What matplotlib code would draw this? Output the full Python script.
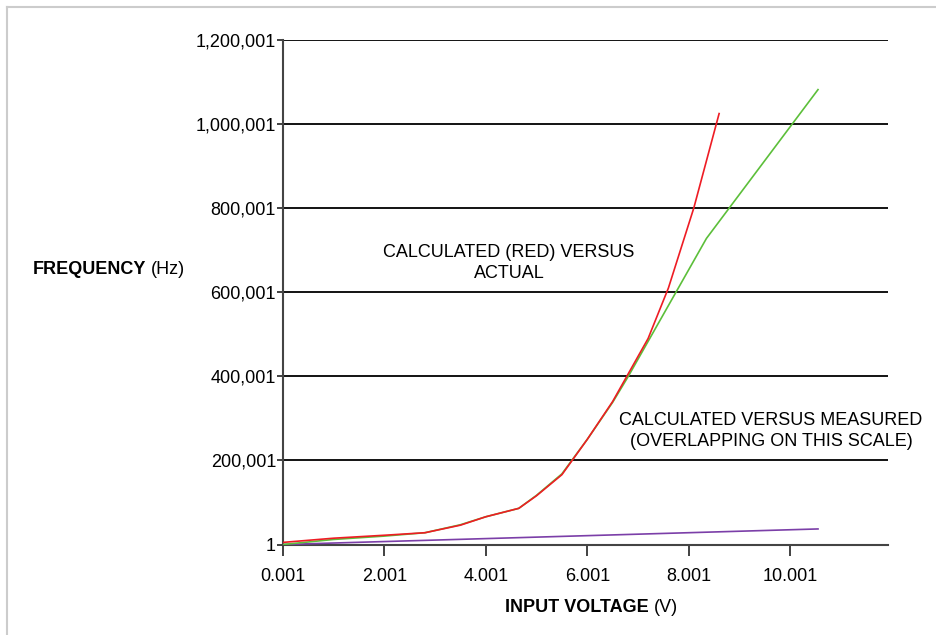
import matplotlib.pyplot as plt
from matplotlib.lines import Line2D

plt.rcParams['font.family'] = ['Liberation Sans', 'DejaVu Sans']

# Input voltage (V) and frequency (Hz)
calc_v = [0.0, 1.0, 2.0, 2.8, 3.5, 4.0, 4.65, 5.0, 5.5, 6.0, 6.5, 7.2, 7.6, 8.1, 8.6]
calc_hz = [5000, 15000, 22000, 28000, 46000, 66000, 86000, 116000, 166000, 250000,
           340000, 490000, 610000, 800000, 1025000]

meas_v = [0.0, 1.0, 2.0, 2.8, 3.5, 4.0, 4.65, 5.0, 5.5, 6.0, 6.5, 6.8, 8.35, 10.55]
meas_hz = [1, 12000, 20000, 28000, 47000, 66000, 86000, 117000, 168000, 250000,
           338000, 398000, 728000, 1082000]

actual_v = [0.0, 10.55]
actual_hz = [1, 37000]

yticks = [1, 200001, 400001, 600001, 800001, 1000001, 1200001]
xticks = [0.001, 2.001, 4.001, 6.001, 8.001, 10.001]

W, H = 937, 635
fig = plt.figure(figsize=(W / 100, H / 100), dpi=100)
ax = fig.add_axes([283 / W, 90.5 / H, 605 / W, 504.5 / H])

for y in yticks[1:]:
    ax.axhline(y, color='black', lw=1.3, zorder=1)

ax.plot(actual_v, actual_hz, color='#7b3fa8', lw=1.2, zorder=3)
ax.plot(meas_v, meas_hz, color='#5cbf3a', lw=1.2, zorder=3)
ax.plot(calc_v, calc_hz, color='#ee1c24', lw=1.2, zorder=4)

ax.set_xlim(0.001, 11.93)
ax.set_ylim(1, 1200001)
ax.set_xticks(xticks)
ax.set_xticklabels(['%.3f' % v for v in xticks])
ax.set_yticks(yticks)
ax.set_yticklabels(['{:,}'.format(v) for v in yticks])

for s in ['top', 'right']:
    ax.spines[s].set_visible(False)
for s in ['left', 'bottom']:
    ax.spines[s].set_color('#444444')
    ax.spines[s].set_linewidth(1.5)

ax.tick_params(axis='x', length=8, width=1.3, color='#333333', labelsize=13, pad=9)
ax.tick_params(axis='y', length=4, width=1.3, color='#333333', labelsize=13, pad=1)

# annotations, placed in figure fractions (measured from the top)
fig.text(509 / W, 1 - 263 / H, 'CALCULATED (RED) VERSUS\nACTUAL',
         ha='center', va='center', fontsize=13, linespacing=1.38)
fig.text(771 / W, 1 - 431 / H, 'CALCULATED VERSUS MEASURED\n(OVERLAPPING ON THIS SCALE)',
         ha='center', va='center', fontsize=13, linespacing=1.35)

# axis titles: bold part + regular units
fig.canvas.draw()
r = fig.canvas.get_renderer()
t1 = fig.text(33 / W, 1 - 270 / H, 'FREQUENCY', fontsize=13,
              fontweight='bold', va='center')
bb = t1.get_window_extent(r)
fig.text((bb.x1 + 5) / W, 1 - 270 / H, '(Hz)', fontsize=13, va='center')

t2 = fig.text(505 / W, 1 - 607 / H, 'INPUT VOLTAGE', fontsize=13,
              fontweight='bold', va='center')
bb = t2.get_window_extent(r)
fig.text((bb.x1 + 5) / W, 1 - 607 / H, '(V)', fontsize=13, va='center')

# light frame on top and left edges
fig.add_artist(Line2D([7 / W, 1], [1 - 7 / H, 1 - 7 / H],
                      transform=fig.transFigure, color='#cccccc', lw=1.5))
fig.add_artist(Line2D([7 / W, 7 / W], [0, 1 - 7 / H],
                      transform=fig.transFigure, color='#cccccc', lw=1.5))

fig.savefig('out.png', dpi=100)
